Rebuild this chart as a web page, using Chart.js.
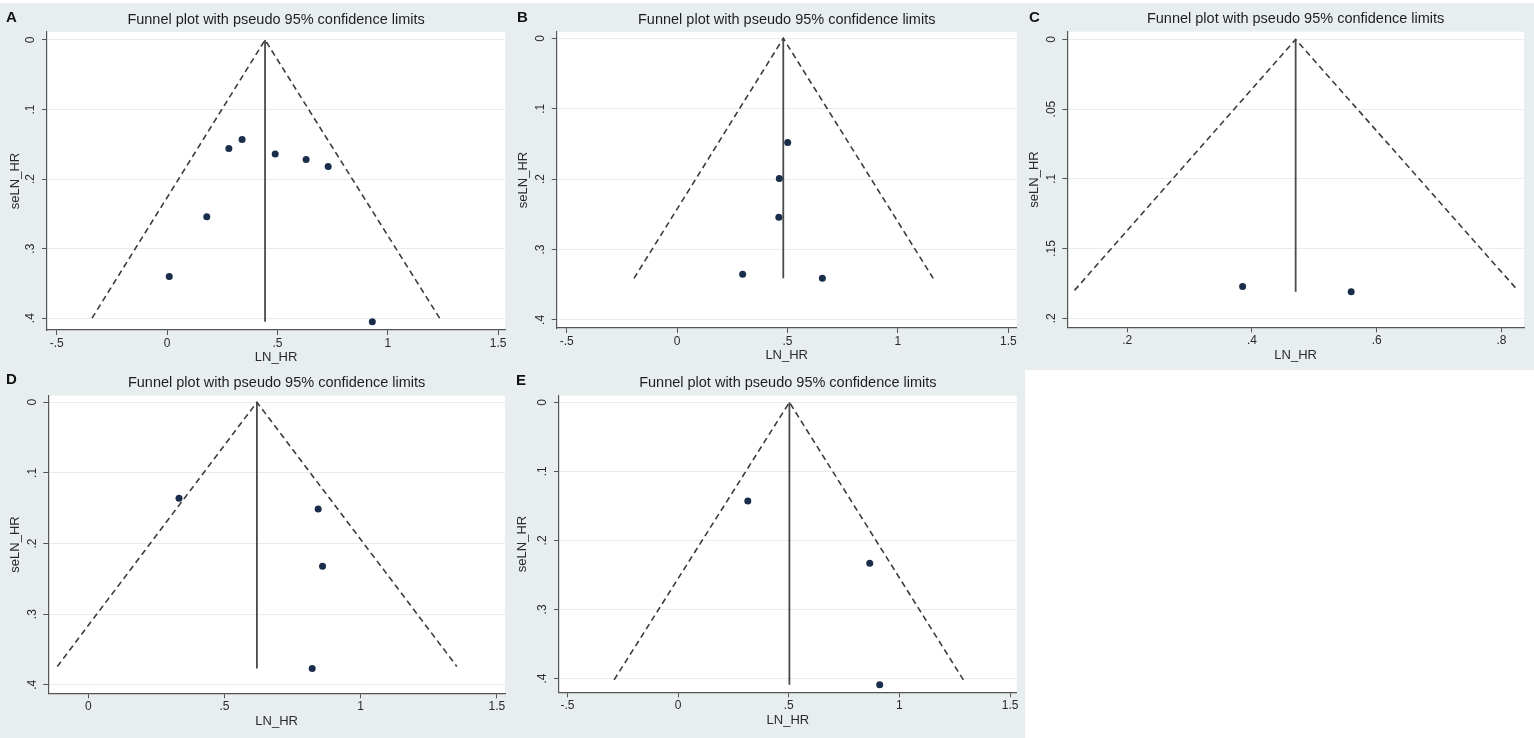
<!DOCTYPE html>
<html>
<head>
<meta charset="utf-8">
<title>Funnel plots</title>
<script src="https://cdn.jsdelivr.net/npm/chart.js@4.4.1/dist/chart.umd.min.js"></script>
<style>
  body { margin: 0; background: #fff; width: 1534px; height: 738px; position: relative; overflow: hidden; }
  .panel { position: absolute; background: #e8eef0; }
</style>
</head>
<body>
<div class="panel" style="left:0px;top:3px;width:508px;height:365px"><canvas id="cA"></canvas></div>
<div class="panel" style="left:508px;top:3px;width:511px;height:365px"><canvas id="cB"></canvas></div>
<div class="panel" style="left:1019px;top:3px;width:515px;height:367px"><canvas id="cC"></canvas></div>
<div class="panel" style="left:0px;top:368px;width:507px;height:370px"><canvas id="cD"></canvas></div>
<div class="panel" style="left:507px;top:368px;width:518px;height:370px"><canvas id="cE"></canvas></div>
<script>
// --- data ---
// A
const lnHR_A = [0.01, 0.18, 0.28, 0.34, 0.49, 0.63, 0.73, 0.93];
const se_A = [0.340, 0.254, 0.156, 0.143, 0.164, 0.172, 0.182, 0.405];
const funnelX_A = [-0.34, 0.444, 1.235];
const funnelY_A = [0.40, 0, 0.40];
const midX_A = [0.444, 0.444];
const midY_A = [0, 0.405];
// B
const lnHR_B = [0.501, 0.463, 0.461, 0.297, 0.658];
const se_B = [0.148, 0.199, 0.254, 0.335, 0.341];
const funnelX_B = [-0.195, 0.481, 1.160];
const funnelY_B = [0.341, 0, 0.341];
const midX_B = [0.481, 0.481];
const midY_B = [0, 0.341];
// C
const lnHR_C = [0.385, 0.559];
const se_C = [0.1773, 0.181];
const funnelX_C = [0.1156, 0.470, 0.826];
const funnelY_C = [0.180, 0, 0.180];
const midX_C = [0.470, 0.470];
const midY_C = [0, 0.181];
// D
const lnHR_D = [0.333, 0.844, 0.860, 0.822];
const se_D = [0.136, 0.151, 0.232, 0.377];
const funnelX_D = [-0.114, 0.619, 1.353];
const funnelY_D = [0.374, 0, 0.374];
const midX_D = [0.619, 0.619];
const midY_D = [0, 0.377];
// E
const lnHR_E = [0.315, 0.866, 0.911];
const se_E = [0.143, 0.233, 0.409];
const funnelX_E = [-0.289, 0.503, 1.289];
const funnelY_E = [0.402, 0, 0.402];
const midX_E = [0.503, 0.503];
const midY_E = [0, 0.409];

// tick labels
const xTicksWide = [-0.5, 0, 0.5, 1, 1.5];
const xTicksD = [0, 0.5, 1, 1.5];
const xTicksC = [0.2, 0.4, 0.6, 0.8];
const yTicks = [0, 0.1, 0.2, 0.3, 0.4];
const yTicksC = [0, 0.05, 0.1, 0.15, 0.2];

// axis ranges
const xRange_A = [-0.544, 1.532], yRange_A = [-0.0115, 0.417];
const xRange_B = [-0.545, 1.538], yRange_B = [-0.009, 0.4115];
const xRange_C = [0.104, 0.836],  yRange_C = [-0.0055, 0.2065];
const xRange_D = [-0.147, 1.53],  yRange_D = [-0.0093, 0.412];
const xRange_E = [-0.538, 1.530], yRange_E = [-0.0096, 0.420];

const TITLE = 'Funnel plot with pseudo 95% confidence limits';
const FONT = '"Liberation Sans", Arial, sans-serif';

// stata style labels: .5 instead of 0.5
function fmt(v) {
  let s = String(+Number(v).toFixed(3));
  return s.replace(/^(-?)0\./, '$1.');
}

const meas = document.createElement('canvas').getContext('2d');
meas.font = '12px ' + FONT;

const plotBg = {
  id: 'plotBg',
  beforeDraw(chart) {
    const a = chart.chartArea;
    const ctx = chart.ctx;
    ctx.save();
    ctx.fillStyle = '#ffffff';
    ctx.fillRect(a.left, a.top, a.right - a.left, a.bottom - a.top);
    ctx.restore();
  }
};

const panelLetter = {
  id: 'panelLetter',
  afterDraw(chart, args, opts) {
    const ctx = chart.ctx;
    ctx.save();
    ctx.font = 'bold 15px ' + FONT;
    ctx.fillStyle = '#111';
    ctx.textBaseline = 'alphabetic';
    ctx.fillText(opts.text, opts.x, opts.y);
    ctx.restore();
  }
};

// area = [left, top, right, bottom] of the plot region inside the panel
function funnel(id, letter, letterPos, W, H, area, xs, ys, fx, fy, mx, my, xr, yr, xt, yt) {
  const pts = xs.map((v, i) => ({x: v, y: ys[i]}));
  const fun = fx.map((v, i) => ({x: v, y: fy[i]}));
  const mid = mx.map((v, i) => ({x: v, y: my[i]}));
  const widest = Math.max(...yt.map(v => meas.measureText(fmt(v)).width));
  const titleCenter = area[1] - 12.5;

  new Chart(document.getElementById(id), {
    type: 'scatter',
    data: {
      datasets: [
        {data: pts, showLine: false, pointRadius: 3.5, pointBackgroundColor: '#1a2d4a', pointBorderWidth: 0},
        {data: fun, showLine: true, borderColor: '#3c3c3c', borderWidth: 1.6, borderDash: [6, 4], pointRadius: 0, fill: false},
        {data: mid, showLine: true, borderColor: '#4a4a4a', borderWidth: 1.8, pointRadius: 0, fill: false}
      ]
    },
    options: {
      responsive: true,
      maintainAspectRatio: false,
      animation: false,
      events: [],
      layout: {autoPadding: false, padding: {left: 0, top: 0, right: W - area[2], bottom: 0}},
      plugins: {
        legend: {display: false},
        tooltip: {enabled: false},
        title: {
          display: true,
          text: TITLE,
          fullSize: false,
          color: '#1e1e1e',
          font: {family: FONT, size: 14.5, weight: 'normal'},
          padding: {top: titleCenter - 8.7, bottom: area[1] - titleCenter - 8.7}
        },
        panelLetter: {text: letter, x: letterPos[0], y: letterPos[1]}
      },
      scales: {
        x: {
          type: 'linear',
          min: xr[0], max: xr[1],
          afterBuildTicks: s => { s.ticks = xt.map(v => ({value: v})); },
          afterFit: s => { s.height = H - area[3]; },
          ticks: {callback: v => fmt(v), color: '#2a2a2a', font: {family: FONT, size: 12}, padding: 1.5, maxRotation: 0, minRotation: 0},
          grid: {drawOnChartArea: false, drawTicks: true, tickLength: 5, tickColor: '#555'},
          border: {display: true, color: '#555', width: 1.2},
          title: {display: true, text: 'LN_HR', color: '#2a2a2a', font: {family: FONT, size: 13},
                  padding: {top: 0, bottom: H - (area[3] + 27.7) - 7.8}}
        },
        y: {
          type: 'linear',
          reverse: true,
          min: yr[0], max: yr[1],
          afterBuildTicks: s => { s.ticks = yt.map(v => ({value: v})); },
          afterFit: s => { s.width = area[0]; },
          ticks: {callback: v => fmt(v), color: '#2a2a2a', font: {family: FONT, size: 12},
                  minRotation: 90, maxRotation: 90, crossAlign: 'center', padding: 16 - 5 - widest / 2},
          grid: {color: '#e6edef', lineWidth: 1, drawTicks: true, tickLength: 5, tickColor: '#555'},
          border: {display: true, color: '#555', width: 1.2},
          title: {display: true, text: 'seLN_HR', color: '#2a2a2a', font: {family: FONT, size: 13},
                  padding: {top: 8, bottom: 0}}
        }
      }
    },
    plugins: [plotBg, panelLetter]
  });
}

funnel('cA', 'A', [6, 19], 508, 365, [47, 29, 507, 327],
  lnHR_A, se_A, funnelX_A, funnelY_A, midX_A, midY_A, xRange_A, yRange_A, xTicksWide, yTicks);
funnel('cB', 'B', [9, 19], 511, 365, [48.7, 29, 508.7, 325],
  lnHR_B, se_B, funnelX_B, funnelY_B, midX_B, midY_B, xRange_B, yRange_B, xTicksWide, yTicks);
funnel('cC', 'C', [10, 19], 515, 367, [48.3, 28.7, 505, 324.3],
  lnHR_C, se_C, funnelX_C, funnelY_C, midX_C, midY_C, xRange_C, yRange_C, xTicksC, yTicksC);
funnel('cD', 'D', [6, 16], 507, 370, [48.3, 27.7, 505, 325.3],
  lnHR_D, se_D, funnelX_D, funnelY_D, midX_D, midY_D, xRange_D, yRange_D, xTicksD, yTicks);
funnel('cE', 'E', [9, 17], 518, 370, [52, 27.7, 509.7, 324.3],
  lnHR_E, se_E, funnelX_E, funnelY_E, midX_E, midY_E, xRange_E, yRange_E, xTicksWide, yTicks);
</script>
</body>
</html>
